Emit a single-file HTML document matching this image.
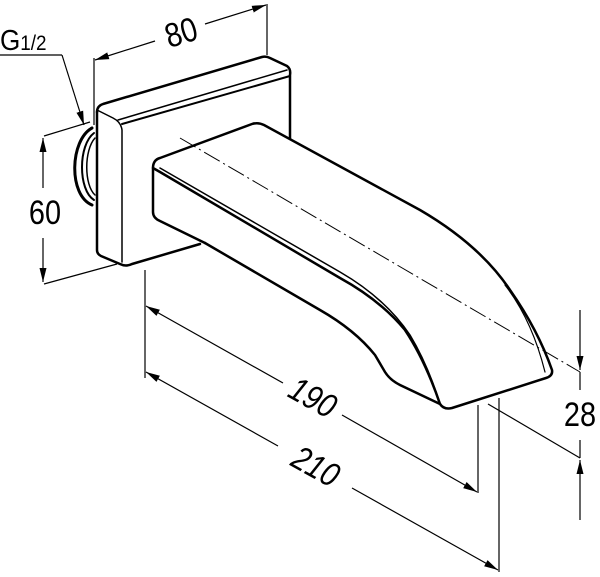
<!DOCTYPE html>
<html><head><meta charset="utf-8"><style>
html,body{margin:0;padding:0;background:#fff;}
svg{display:block}
text{font-family:"Liberation Sans",Arial,sans-serif;fill:#000}
</style></head><body>
<svg width="600" height="577" viewBox="0 0 600 577" xmlns="http://www.w3.org/2000/svg">
<defs>
<marker id="a" viewBox="0 0 14 10" refX="14" refY="5" markerWidth="14" markerHeight="10" orient="auto-start-reverse" markerUnits="userSpaceOnUse"><path d="M0,1.5 L14,5 L0,8.5 Z" fill="#000"/></marker>
</defs>
<g fill="none" stroke="#000" stroke-linejoin="round" stroke-linecap="round">
<path d="M92,128 C70,140 68,195 92,205" stroke-width="3"/>
<path d="M94,133 C78,145 78,190 94,200" stroke-width="2"/>
<path d="M95,138 C84,150 84,185 95,195" stroke-width="1.5"/>
<path d="M97,112 Q97,106 103,104 L262,57 Q266,56 270,58 L287,66 Q291,69 290,75 L290,140" stroke-width="2.5"/>
<path d="M97,112 L97,250 Q97,254 101,256 L120,264 Q126,267 132,264 L200,244" stroke-width="2.5"/>
<path d="M97,110 L113,118 Q121,122 122,130 L122,262" stroke-width="1.5"/>
<path d="M118,120 L287,70" stroke-width="1.5"/>
<path d="M122,124 L290,76" stroke-width="2"/>
<path d="M153,168 Q153,160 160,158 L252,124 Q258,122 264,125 L420,210 Q480,245 510,290 Q538,330 552,370 Q553,376 546,378 L452,408 Q444,410 440,404 Q425,360 405,330 Q380,300 340,278 L160,172 Z" stroke-width="2.5" fill="#fff"/>
<path d="M153,168 L153,212 Q153,218 160,221 L205,243" stroke-width="2.5"/>
<path d="M205,243 L320,310 Q355,330 375,355 L385,372 Q390,380 400,385 L440,404" stroke-width="2.5"/>
<path d="M160,168 L340,272 Q385,298 410,335 Q428,365 440,404" stroke-width="1.5"/>
<path d="M545,372 Q532,320 505,285" stroke-width="1.2"/>
</g>
<path d="M180,138 L580,372" stroke="#000" stroke-width="1" stroke-dasharray="18,4,2,4" fill="none"/>
<g stroke="#000" stroke-width="1.2" fill="none">
<line x1="94" y1="58" x2="94" y2="125"/>
<line x1="267" y1="4" x2="267" y2="55"/>
<line x1="95" y1="60" x2="155" y2="41" marker-start="url(#a)"/>
<line x1="205" y1="24" x2="266" y2="5" marker-end="url(#a)"/>
<line x1="0" y1="55" x2="62" y2="55"/>
<line x1="62" y1="55" x2="84" y2="125" marker-end="url(#a)"/>
<line x1="44" y1="136" x2="90" y2="122"/>
<line x1="44" y1="284" x2="117" y2="264"/>
<line x1="43" y1="138" x2="43" y2="188" marker-start="url(#a)"/>
<line x1="43" y1="238" x2="43" y2="282" marker-end="url(#a)"/>
<line x1="145" y1="270" x2="145" y2="378"/>
<line x1="478" y1="405" x2="478" y2="493"/>
<line x1="499" y1="398" x2="499" y2="572"/>
<line x1="146" y1="306" x2="283" y2="383" marker-start="url(#a)"/>
<line x1="342" y1="415" x2="477" y2="492" marker-end="url(#a)"/>
<line x1="146" y1="372" x2="278" y2="446" marker-start="url(#a)"/>
<line x1="352" y1="488" x2="498" y2="570" marker-end="url(#a)"/>
<line x1="488" y1="404" x2="580" y2="458"/>
<line x1="580" y1="310" x2="580" y2="370" marker-end="url(#a)"/>
<line x1="580" y1="520" x2="580" y2="460" marker-end="url(#a)"/>
<line x1="580" y1="372" x2="580" y2="390"/>
<line x1="580" y1="440" x2="580" y2="458"/>
</g>
<text x="0" y="50" font-size="29" transform="translate(0,50) scale(0.9,1) translate(0,-50)">G<tspan font-size="21">1/2</tspan></text>
<g transform="translate(181,32) rotate(-17)"><text x="0" y="12" font-size="34" text-anchor="middle" transform="scale(0.85,1)">80</text></g>
<g transform="translate(45,212)"><text x="0" y="12" font-size="34" text-anchor="middle" transform="scale(0.85,1)">60</text></g>
<g transform="translate(313,397) rotate(29)"><text x="0" y="12" font-size="34" text-anchor="middle" transform="scale(0.85,1)" font-style="italic">190</text></g>
<g transform="translate(316,466) rotate(29)"><text x="0" y="12" font-size="34" text-anchor="middle" transform="scale(0.85,1)" font-style="italic">210</text></g>
<g transform="translate(580,414)"><text x="0" y="12" font-size="34" text-anchor="middle" transform="scale(0.85,1)">28</text></g>
</svg>
</body></html>
